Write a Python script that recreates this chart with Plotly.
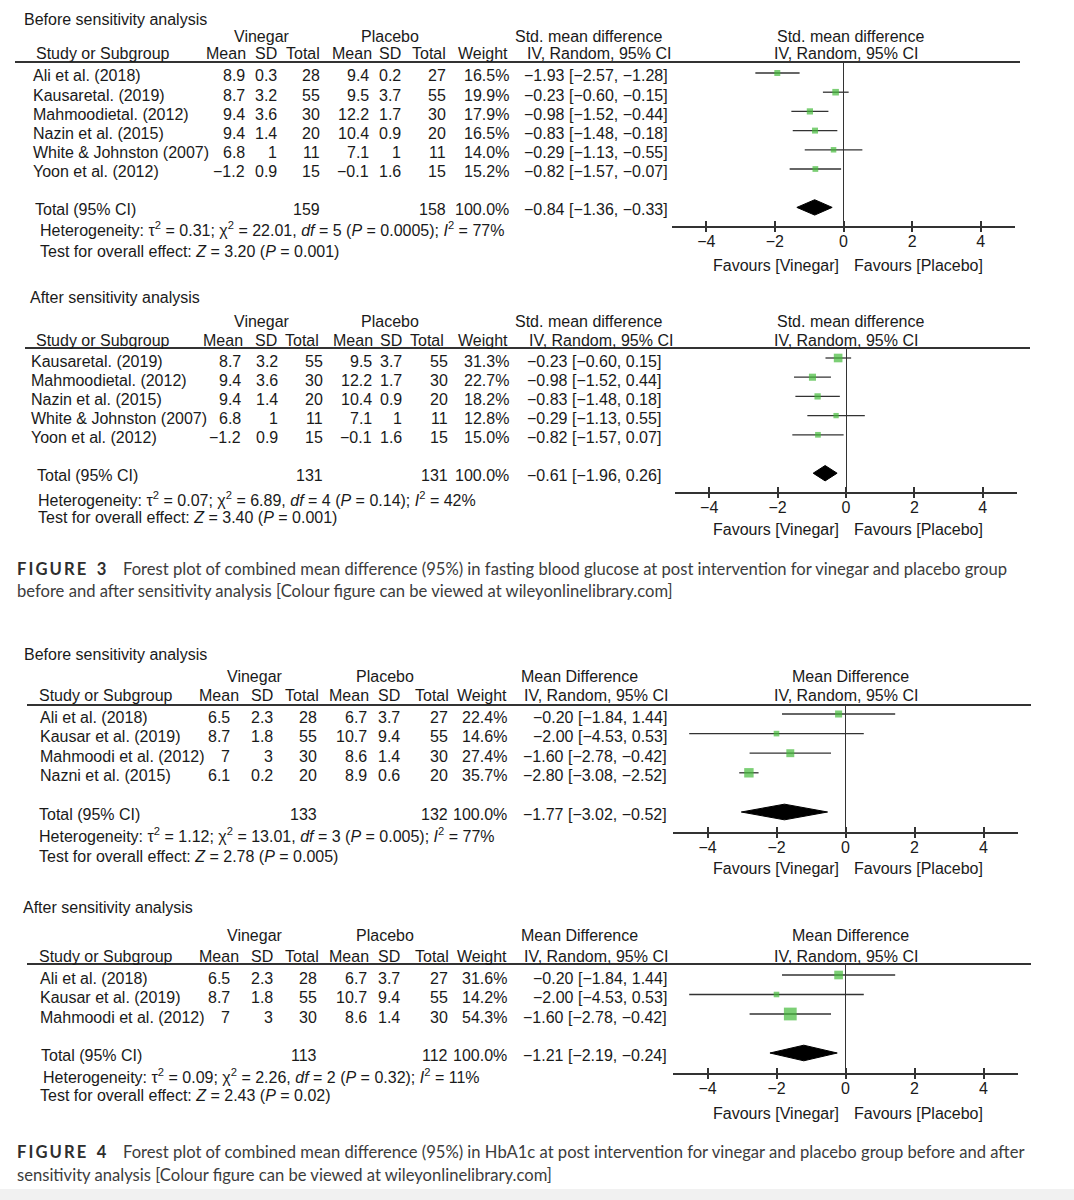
import plotly.graph_objects as go

W, H = 1074, 1200
FONT = "Liberation Sans, Arial, Helvetica, sans-serif"
CAP_FONT = "Lato, Open Sans, sans-serif"
TXT = "#1a1a1a"
GREEN = "#44bb3a"
LINE = "#333333"

# ======================= DATA =======================
tick_vals = [-4, -2, 0, 2, 4]
sub_headers = ["Mean", "SD", "Total", "Mean", "SD", "Total", "Weight"]

# ---- Figure 3, before sensitivity analysis (Std. mean difference) ----
f3a_study = ["Ali et al. (2018)", "Kausaretal. (2019)", "Mahmoodietal. (2012)",
             "Nazin et al. (2015)", "White & Johnston (2007)", "Yoon et al. (2012)"]
f3a_v_mean = ["8.9", "8.7", "9.4", "9.4", "6.8", "−1.2"]
f3a_v_sd = ["0.3", "3.2", "3.6", "1.4", "1", "0.9"]
f3a_v_n = ["28", "55", "30", "20", "11", "15"]
f3a_p_mean = ["9.4", "9.5", "12.2", "10.4", "7.1", "−0.1"]
f3a_p_sd = ["0.2", "3.7", "1.7", "0.9", "1", "1.6"]
f3a_p_n = ["27", "55", "30", "20", "11", "15"]
f3a_weight = [16.5, 19.9, 17.9, 16.5, 14.0, 15.2]
f3a_ci_text = ["−1.93 [−2.57, −1.28]", "−0.23 [−0.60, −0.15]", "−0.98 [−1.52, −0.44]",
               "−0.83 [−1.48, −0.18]", "−0.29 [−1.13, −0.55]", "−0.82 [−1.57, −0.07]"]
f3a_est = [-1.93, -0.23, -0.98, -0.83, -0.29, -0.82]
f3a_lo = [-2.57, -0.60, -1.52, -1.48, -1.13, -1.57]
f3a_hi = [-1.28, 0.15, -0.44, -0.18, 0.55, -0.07]
f3a_total_n = ["159", "158"]
f3a_total_ci_text = "−0.84 [−1.36, −0.33]"
f3a_total = [-0.84, -1.36, -0.33]
f3a_het = "Heterogeneity: τ<sup>2</sup> = 0.31; χ<sup>2</sup> = 22.01, <i>df</i> = 5 (<i>P</i> = 0.0005); <i>I</i><sup>2</sup> = 77%"
f3a_test = "Test for overall effect: <i>Z</i> = 3.20 (<i>P</i> = 0.001)"

# ---- Figure 3, after sensitivity analysis ----
f3b_study = ["Kausaretal. (2019)", "Mahmoodietal. (2012)", "Nazin et al. (2015)",
             "White & Johnston (2007)", "Yoon et al. (2012)"]
f3b_v_mean = ["8.7", "9.4", "9.4", "6.8", "−1.2"]
f3b_v_sd = ["3.2", "3.6", "1.4", "1", "0.9"]
f3b_v_n = ["55", "30", "20", "11", "15"]
f3b_p_mean = ["9.5", "12.2", "10.4", "7.1", "−0.1"]
f3b_p_sd = ["3.7", "1.7", "0.9", "1", "1.6"]
f3b_p_n = ["55", "30", "20", "11", "15"]
f3b_weight = [31.3, 22.7, 18.2, 12.8, 15.0]
f3b_ci_text = ["−0.23 [−0.60, 0.15]", "−0.98 [−1.52, 0.44]", "−0.83 [−1.48, 0.18]",
               "−0.29 [−1.13, 0.55]", "−0.82 [−1.57, 0.07]"]
f3b_est = [-0.23, -0.98, -0.83, -0.29, -0.82]
f3b_lo = [-0.60, -1.52, -1.48, -1.13, -1.57]
f3b_hi = [0.15, -0.44, -0.18, 0.55, -0.07]
f3b_total_n = ["131", "131"]
f3b_total_ci_text = "−0.61 [−1.96, 0.26]"
f3b_total = [-0.61, -0.96, -0.26]
f3b_het = "Heterogeneity: τ<sup>2</sup> = 0.07; χ<sup>2</sup> = 6.89, <i>df</i> = 4 (<i>P</i> = 0.14); <i>I</i><sup>2</sup> = 42%"
f3b_test = "Test for overall effect: <i>Z</i> = 3.40 (<i>P</i> = 0.001)"

# ---- Figure 4, before sensitivity analysis (Mean Difference) ----
f4a_study = ["Ali et al. (2018)", "Kausar et al. (2019)", "Mahmoodi et al. (2012)", "Nazni et al. (2015)"]
f4a_v_mean = ["6.5", "8.7", "7", "6.1"]
f4a_v_sd = ["2.3", "1.8", "3", "0.2"]
f4a_v_n = ["28", "55", "30", "20"]
f4a_p_mean = ["6.7", "10.7", "8.6", "8.9"]
f4a_p_sd = ["3.7", "9.4", "1.4", "0.6"]
f4a_p_n = ["27", "55", "30", "20"]
f4a_weight = [22.4, 14.6, 27.4, 35.7]
f4a_ci_text = ["−0.20 [−1.84, 1.44]", "−2.00 [−4.53, 0.53]", "−1.60 [−2.78, −0.42]", "−2.80 [−3.08, −2.52]"]
f4a_est = [-0.20, -2.00, -1.60, -2.80]
f4a_lo = [-1.84, -4.53, -2.78, -3.08]
f4a_hi = [1.44, 0.53, -0.42, -2.52]
f4a_total_n = ["133", "132"]
f4a_total_ci_text = "−1.77 [−3.02, −0.52]"
f4a_total = [-1.77, -3.02, -0.52]
f4a_het = "Heterogeneity: τ<sup>2</sup> = 1.12; χ<sup>2</sup> = 13.01, <i>df</i> = 3 (<i>P</i> = 0.005); <i>I</i><sup>2</sup> = 77%"
f4a_test = "Test for overall effect: <i>Z</i> = 2.78 (<i>P</i> = 0.005)"

# ---- Figure 4, after sensitivity analysis ----
f4b_study = ["Ali et al. (2018)", "Kausar et al. (2019)", "Mahmoodi et al. (2012)"]
f4b_v_mean = ["6.5", "8.7", "7"]
f4b_v_sd = ["2.3", "1.8", "3"]
f4b_v_n = ["28", "55", "30"]
f4b_p_mean = ["6.7", "10.7", "8.6"]
f4b_p_sd = ["3.7", "9.4", "1.4"]
f4b_p_n = ["27", "55", "30"]
f4b_weight = [31.6, 14.2, 54.3]
f4b_ci_text = ["−0.20 [−1.84, 1.44]", "−2.00 [−4.53, 0.53]", "−1.60 [−2.78, −0.42]"]
f4b_est = [-0.20, -2.00, -1.60]
f4b_lo = [-1.84, -4.53, -2.78]
f4b_hi = [1.44, 0.53, -0.42]
f4b_total_n = ["113", "112"]
f4b_total_ci_text = "−1.21 [−2.19, −0.24]"
f4b_total = [-1.21, -2.19, -0.24]
f4b_het = "Heterogeneity: τ<sup>2</sup> = 0.09; χ<sup>2</sup> = 2.26, <i>df</i> = 2 (<i>P</i> = 0.32); <i>I</i><sup>2</sup> = 11%"
f4b_test = "Test for overall effect: <i>Z</i> = 2.43 (<i>P</i> = 0.02)"

cap3_l1 = "Forest plot of combined mean difference (95%) in fasting blood glucose at post intervention for vinegar and placebo group"
cap3_l2 = "before and after sensitivity analysis [Colour figure can be viewed at wileyonlinelibrary.com]"
cap4_l1 = "Forest plot of combined mean difference (95%) in HbA1c at post intervention for vinegar and placebo group before and after"
cap4_l2 = "sensitivity analysis [Colour figure can be viewed at wileyonlinelibrary.com]"

# ======================= LAYOUT SPECS (pixels) =======================
FBG_A = dict(group=[("Vinegar", 262, "center"), ("Placebo", 390, "center"), ("Std. mean difference", 513, "left")],
             heads=[("Study or Subgroup", 34, "left"), ("Mean", 248, "right"), ("SD", 279, "right"),
                    ("Total", 322, "right"), ("Mean", 374, "right"), ("SD", 403, "right"),
                    ("Total", 448, "right"), ("Weight", 510, "right"), ("IV, Random, 95% CI", 525, "left")],
             cols=[247, 279, 322, 371, 403, 448, 511], ci_x=522, ci_anchor="left",
             right_title="Std. mean difference")
FBG_B = dict(FBG_A, heads=[("Study or Subgroup", 34, "left"), ("Mean", 245, "right"), ("SD", 279, "right"),
                           ("Total", 321, "right"), ("Mean", 375, "right"), ("SD", 404, "right"),
                           ("Total", 446, "right"), ("Weight", 510, "right"), ("IV, Random, 95% CI", 527, "left")],
             cols=[243, 280, 325, 374, 404, 450, 511], ci_x=525)
HBA = dict(group=[("Vinegar", 255, "center"), ("Placebo", 385, "center"), ("Mean Difference", 579, "center")],
           heads=[("Study or Subgroup", 37, "left"), ("Mean", 241, "right"), ("SD", 275, "right"),
                  ("Total", 321, "right"), ("Mean", 371, "right"), ("SD", 402, "right"),
                  ("Total", 451, "right"), ("Weight", 509, "right"), ("IV, Random, 95% CI", 670, "right")],
           cols=[232, 275, 319, 369, 402, 450, 509], ci_x=669, ci_anchor="right",
           right_title="Mean Difference")

panels = [
    dict(spec=FBG_A, title="Before sensitivity analysis", tx=22, ty=19, gy=36, hy=53, line=(15, 1020, 62),
         name_x=31, tot_x=33, het=(38, 229), test=(38, 252),
         plot=dict(x0=672, x1=1015, top=62, axis=226, first=73, sp=19.2), fav_y=265,
         study=f3a_study, vm=f3a_v_mean, vs=f3a_v_sd, vn=f3a_v_n, pm=f3a_p_mean, ps=f3a_p_sd, pn=f3a_p_n,
         w=f3a_weight, ci=f3a_ci_text, est=f3a_est, lo=f3a_lo, hi=f3a_hi,
         tn=f3a_total_n, tci=f3a_total_ci_text, tot=f3a_total, hett=f3a_het, testt=f3a_test),
    dict(spec=FBG_B, title="After sensitivity analysis", tx=28, ty=298, gy=321, hy=340, line=(25, 1030, 348),
         name_x=29, tot_x=35, het=(36, 499), test=(36, 517),
         plot=dict(x0=675, x1=1017, top=348, axis=492, first=358, sp=19.2), fav_y=529,
         study=f3b_study, vm=f3b_v_mean, vs=f3b_v_sd, vn=f3b_v_n, pm=f3b_p_mean, ps=f3b_p_sd, pn=f3b_p_n,
         w=f3b_weight, ci=f3b_ci_text, est=f3b_est, lo=f3b_lo, hi=f3b_hi,
         tn=f3b_total_n, tci=f3b_total_ci_text, tot=f3b_total, hett=f3b_het, testt=f3b_test),
    dict(spec=HBA, title="Before sensitivity analysis", tx=22, ty=655, gy=676, hy=695, line=(27, 1031, 705),
         name_x=38, tot_x=37, het=(37, 835), test=(37, 856),
         plot=dict(x0=673, x1=1018, top=704, axis=832, first=714, sp=19.6), fav_y=868,
         study=f4a_study, vm=f4a_v_mean, vs=f4a_v_sd, vn=f4a_v_n, pm=f4a_p_mean, ps=f4a_p_sd, pn=f4a_p_n,
         w=f4a_weight, ci=f4a_ci_text, est=f4a_est, lo=f4a_lo, hi=f4a_hi,
         tn=f4a_total_n, tci=f4a_total_ci_text, tot=f4a_total, hett=f4a_het, testt=f4a_test),
    dict(spec=HBA, title="After sensitivity analysis", tx=21, ty=907, gy=935, hy=956, line=(27, 1031, 964),
         name_x=38, tot_x=39, het=(41, 1076), test=(38, 1095),
         plot=dict(x0=673, x1=1018, top=963, axis=1073, first=975, sp=19.5), fav_y=1113,
         study=f4b_study, vm=f4b_v_mean, vs=f4b_v_sd, vn=f4b_v_n, pm=f4b_p_mean, ps=f4b_p_sd, pn=f4b_p_n,
         w=f4b_weight, ci=f4b_ci_text, est=f4b_est, lo=f4b_lo, hi=f4b_hi,
         tn=f4b_total_n, tci=f4b_total_ci_text, tot=f4b_total, hett=f4b_het, testt=f4b_test),
]

# ======================= BUILD =======================
fig = go.Figure()
annotations, shapes = [], []
layout_axes = {}


def ann(text, x, y, anchor="left", yref="paper", size=16, color=TXT, family=FONT, yshift=0):
    annotations.append(dict(
        text=text, x=x / W, xref="paper",
        y=(1 - y / H) if yref == "paper" else y, yref=yref,
        xanchor=anchor, yanchor="middle", showarrow=False, yshift=yshift,
        font=dict(family=family, size=size, color=color)))


for i, p in enumerate(panels, start=1):
    s = p["spec"]
    xa = "x" if i == 1 else f"x{i}"
    ya = "y" if i == 1 else f"y{i}"
    xkey = "xaxis" if i == 1 else f"xaxis{i}"
    ykey = "yaxis" if i == 1 else f"yaxis{i}"
    g = p["plot"]
    n = len(p["study"])
    rows = list(range(n))
    trow = n + 1

    # axes: main axis carries upward ticks and the labels
    layout_axes[xkey] = dict(
        domain=[g["x0"] / W, g["x1"] / W], range=[-5, 5], anchor=ya,
        showline=True, linecolor=LINE, linewidth=1.5,
        ticks="inside", ticklen=5, tickwidth=1.5, tickcolor=LINE, tickvals=tick_vals,
        tickfont=dict(family=FONT, size=16, color=TXT),
        zeroline=True, zerolinecolor=LINE, zerolinewidth=1.2, showgrid=False, fixedrange=True)
    layout_axes[ykey] = dict(
        domain=[1 - g["axis"] / H, 1 - g["top"] / H],
        range=[(g["axis"] - g["first"]) / g["sp"], (g["top"] - g["first"]) / g["sp"]],
        anchor=xa, visible=False, fixedrange=True)
    # overlay axis for the downward half of the crossing tick marks
    okey = f"xaxis{i + 4}"
    layout_axes[okey] = dict(overlaying=xa, anchor=ya, range=[-5, 5], tickvals=tick_vals,
                             ticks="outside", ticklen=5, tickwidth=1.5, tickcolor=LINE,
                             showticklabels=False, showline=False, zeroline=False, showgrid=False,
                             fixedrange=True)
    fig.add_trace(go.Scatter(x=[0], y=[0], xaxis=f"x{i + 4}", yaxis=ya, mode="markers",
                             marker=dict(opacity=0), hoverinfo="skip", showlegend=False))

    # study squares + CI lines
    fig.add_trace(go.Scatter(
        x=p["est"], y=rows, xaxis=xa, yaxis=ya, mode="markers",
        marker=dict(symbol="square", color=GREEN, size=[3 + 0.18 * w for w in p["w"]], line=dict(width=0)),
        error_x=dict(type="data", symmetric=False,
                     array=[h - e for h, e in zip(p["hi"], p["est"])],
                     arrayminus=[e - l for e, l in zip(p["est"], p["lo"])],
                     width=0, thickness=1.3, color=LINE),
        hoverinfo="skip", showlegend=False))
    # pooled diamond
    te, tl, th = p["tot"]
    hh = 0.4
    fig.add_trace(go.Scatter(
        x=[tl, te, th, te, tl], y=[trow, trow - hh, trow, trow + hh, trow], xaxis=xa, yaxis=ya,
        mode="lines", fill="toself", fillcolor="black", line=dict(color="black", width=1),
        hoverinfo="skip", showlegend=False))

    # header line
    lx0, lx1, ly = p["line"]
    shapes.append(dict(type="line", xref="paper", yref="paper", x0=lx0 / W, x1=lx1 / W,
                       y0=1 - ly / H, y1=1 - ly / H, line=dict(color=LINE, width=2)))

    # texts
    ann(p["title"], p["tx"], p["ty"])
    for t, x, a in s["group"]:
        ann(t, x, p["gy"], anchor=a)
    for t, x, a in s["heads"]:
        ann(t, x, p["hy"], anchor=a)
    ann(s["right_title"], 850, p["gy"], anchor="center")
    ann("IV, Random, 95% CI", 846, p["hy"], anchor="center")

    cols = s["cols"]
    for r in rows:
        ann(p["study"][r], p["name_x"], r, yref=ya, yshift=-3)
        vals = [p["vm"][r], p["vs"][r], p["vn"][r], p["pm"][r], p["ps"][r], p["pn"][r], f"{p['w'][r]:.1f}%"]
        for v, cx in zip(vals, cols):
            ann(v, cx, r, anchor="right", yref=ya, yshift=-3)
        ann(p["ci"][r], s["ci_x"], r, anchor=s["ci_anchor"], yref=ya, yshift=-3)
    ann("Total (95% CI)", p["tot_x"], trow, yref=ya, yshift=-2)
    ann(p["tn"][0], cols[2], trow, anchor="right", yref=ya, yshift=-2)
    ann(p["tn"][1], cols[5], trow, anchor="right", yref=ya, yshift=-2)
    ann("100.0%", cols[6], trow, anchor="right", yref=ya, yshift=-2)
    ann(p["tci"], s["ci_x"], trow, anchor=s["ci_anchor"], yref=ya, yshift=-2)
    ann(p["hett"], p["het"][0], p["het"][1])
    ann(p["testt"], p["test"][0], p["test"][1])
    ann("Favours [Vinegar]", 841, p["fav_y"], anchor="right")
    ann("Favours [Placebo]", 852, p["fav_y"], anchor="left")

# captions
spaced = lambda s: "\u2009".join(s)
CAP_SIZE = 16.6
ann(f"<b>{spaced('FIGURE')}\u2002\u20093</b>", 15, 569, family=CAP_FONT, size=CAP_SIZE, color="#2e2e2e")
ann(cap3_l1, 121, 569, family=CAP_FONT, size=CAP_SIZE, color="#3c3c3c")
ann(cap3_l2, 15, 591, family=CAP_FONT, size=CAP_SIZE, color="#3c3c3c")
ann(f"<b>{spaced('FIGURE')}\u2002\u20094</b>", 15, 1152, family=CAP_FONT, size=CAP_SIZE, color="#2e2e2e")
ann(cap4_l1, 121, 1152, family=CAP_FONT, size=CAP_SIZE, color="#3c3c3c")
ann(cap4_l2, 15, 1175, family=CAP_FONT, size=CAP_SIZE, color="#3c3c3c")

shapes.append(dict(type="rect", xref="paper", yref="paper", x0=0, x1=1, y0=0, y1=1 - 1189 / H,
                   fillcolor="#f1f1f1", line=dict(width=0), layer="below"))

fig.update_layout(
    width=W, height=H, autosize=False,
    margin=dict(l=0, r=0, t=0, b=0, pad=0),
    paper_bgcolor="white", plot_bgcolor="rgba(0,0,0,0)",
    showlegend=False, annotations=annotations, shapes=shapes,
    **layout_axes)

fig.write_html("out.html", config={"displayModeBar": False},
               post_script="document.body.style.margin='0px';")
